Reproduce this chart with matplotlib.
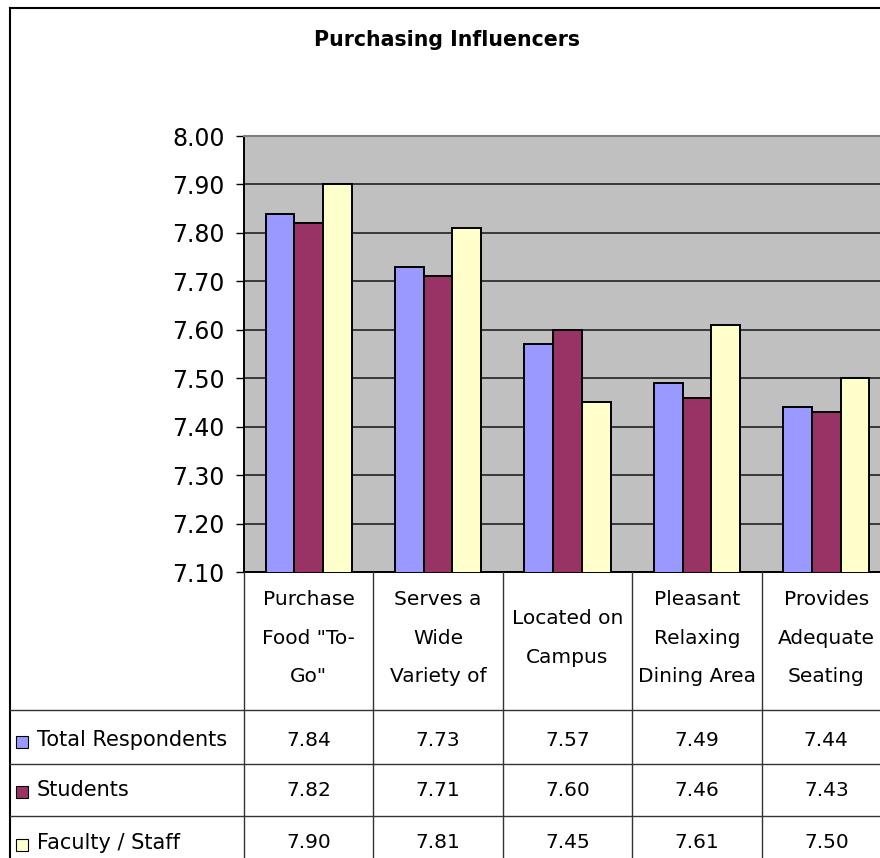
import numpy as np
import matplotlib
matplotlib.use("Agg")
import matplotlib.pyplot as plt
from matplotlib.lines import Line2D
from matplotlib.patches import Rectangle
from matplotlib.transforms import blended_transform_factory

plt.rcParams['font.family'] = ['DejaVu Sans']

# 数据
categories = ['Purchase\nFood "To-\nGo"', 'Serves a\nWide\nVariety of', 'Located on\nCampus',
              'Pleasant\nRelaxing\nDining Area', 'Provides\nAdequate\nSeating']
series_names = ['Total Respondents', 'Students', 'Faculty / Staff']
total = [7.84, 7.73, 7.57, 7.49, 7.44]
students = [7.82, 7.71, 7.60, 7.46, 7.43]
faculty = [7.90, 7.81, 7.45, 7.61, 7.50]
series = [total, students, faculty]
colors = ['#9999FF', '#993366', '#FFFFCC']
yticks = [7.10, 7.20, 7.30, 7.40, 7.50, 7.60, 7.70, 7.80, 7.90, 8.00]

W, H = 880, 858
fig = plt.figure(figsize=(W / 100, H / 100), dpi=100)


def fx(x):
    return x / W


def fy(y):
    return 1 - y / H


# 绘图区 (右侧超出画布)
ax = fig.add_axes([fx(244), fy(572), (891 - 244) / W, (572 - 136) / H])
ax.set_facecolor('#C0C0C0')

x = np.arange(len(categories))
w = 1 / 4.5
for i, vals in enumerate(series):
    ax.bar(x + (i - 1) * w, vals, w, color=colors[i], edgecolor='black',
           linewidth=1.4, zorder=3)

ax.set_xlim(-0.5, len(categories) - 0.5)
ax.set_ylim(7.10, 8.00)
ax.set_yticks(yticks)
ax.set_yticklabels(['%.2f' % t for t in yticks])
ax.yaxis.grid(True, color='#222222', linewidth=1.2, zorder=1)
ax.tick_params(axis='y', direction='out', length=5.8, width=1, pad=8, labelsize=17)
ax.tick_params(axis='x', length=0, labelbottom=False)
ax.spines['top'].set_color('#808080')
ax.spines['top'].set_linewidth(1.5)
ax.spines['right'].set_color('#808080')
ax.spines['left'].set_linewidth(1.4)
ax.spines['bottom'].set_linewidth(1.4)

# 标题
fig.text(fx(447), fy(40), 'Purchasing Influencers', ha='center', va='center',
         fontsize=14.8, fontweight='bold')

# 外框
fig.add_artist(Line2D([fx(10), fx(10)], [fy(8), 0], color='black', lw=1.5))
fig.add_artist(Line2D([fx(10), 1], [fy(8), fy(8)], color='black', lw=1.5))

# 数据表
trans = blended_transform_factory(ax.transData, fig.transFigure)
line_col = '#333333'
for y in [710, 764, 816]:
    fig.add_artist(Line2D([fx(10), 1], [fy(y), fy(y)], color=line_col, lw=1))
for b in np.arange(len(categories) + 1) - 0.5:
    fig.add_artist(Line2D([b, b], [fy(572), 0], color=line_col, lw=1, transform=trans))

# 表头: 分类名称
for i, cat in enumerate(categories):
    lines = cat.split('\n')
    n = len(lines)
    for j, s in enumerate(lines):
        yy = 638 + (j - (n - 1) / 2) * 38.5
        fig.text(i, fy(yy), s, transform=trans, ha='center', va='center', fontsize=14.5)

# 表格行
row_y = [740, 790, 843]
for r, vals in enumerate(series):
    yy = row_y[r]
    fig.add_artist(Rectangle((fx(16), fy(yy + 8)), fx(12), 12 / H, transform=fig.transFigure,
                             facecolor=colors[r], edgecolor='black', lw=0.8))
    fig.text(fx(37), fy(yy), series_names[r], ha='left', va='center', fontsize=15)
    for i, v in enumerate(vals):
        fig.text(i, fy(yy), '%.2f' % v, transform=trans, ha='center', va='center', fontsize=14.5)

fig.savefig('out.png', dpi=100)
